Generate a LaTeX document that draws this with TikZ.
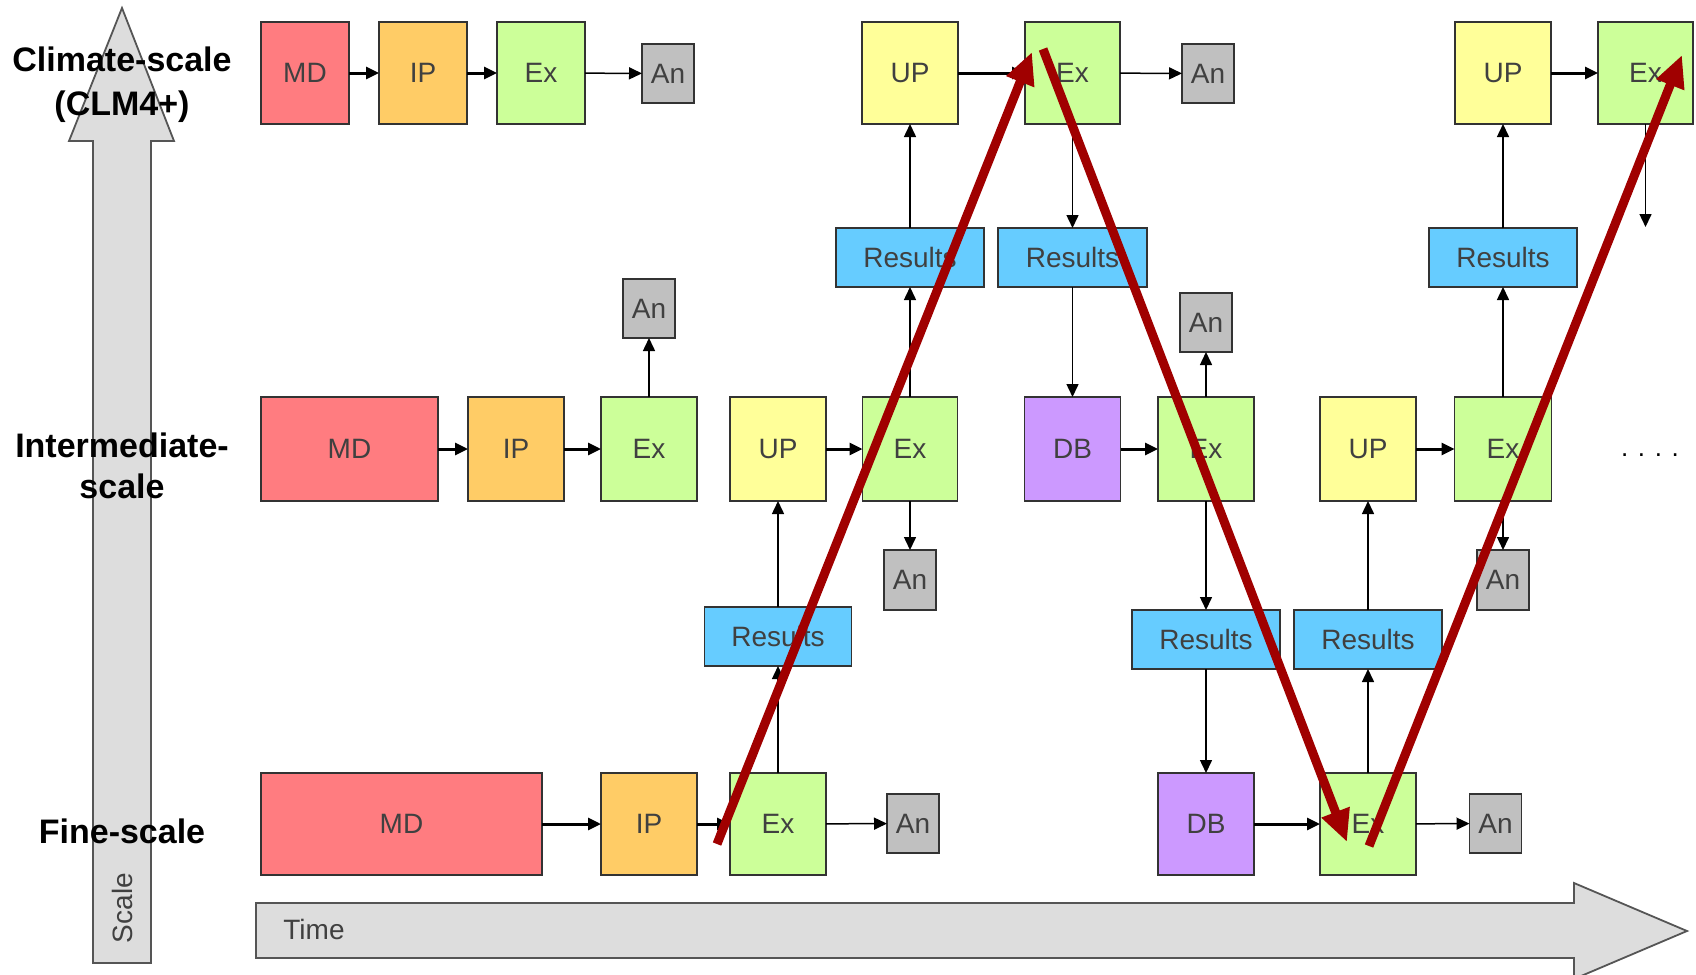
\documentclass[tikz,border=0pt]{standalone}
\usepackage{fontspec}
\setmainfont{Liberation Sans}
\usetikzlibrary{arrows.meta}

\definecolor{mdred}{HTML}{FF7C80}
\definecolor{iporange}{HTML}{FFCC66}
\definecolor{exgreen}{HTML}{CCFF99}
\definecolor{angray}{HTML}{C0C0C0}
\definecolor{upyellow}{HTML}{FFFF99}
\definecolor{resblue}{HTML}{66CCFF}
\definecolor{dbpurple}{HTML}{CC99FF}
\definecolor{bigfill}{HTML}{DDDDDD}
\definecolor{bigedge}{HTML}{555555}
\definecolor{flowred}{HTML}{A00000}

\begin{document}
\begin{tikzpicture}[x=1pt,y=-1pt,
  box/.style={draw=black!80, line width=1.5pt, inner sep=0pt, outer sep=0pt,
              font=\fontsize{28}{30}\selectfont, text=black!75},
  md/.style={box, fill=mdred},
  ip/.style={box, fill=iporange},
  ex/.style={box, fill=exgreen},
  an/.style={box, fill=angray, minimum width=52pt, minimum height=59pt},
  up/.style={box, fill=upyellow},
  db/.style={box, fill=dbpurple},
  res/.style={box, fill=resblue, minimum height=59pt},
  sz/.style 2 args={minimum width=#1, minimum height=#2},
  con/.style={draw=black, line width=1.5pt, -{Triangle[length=13pt,width=12pt]}},
  conthick/.style={con, line width=3pt},
  bigarrow/.style={fill=bigfill, draw=bigedge, line width=1.8pt},
  scalelabel/.style={font=\fontsize{34}{41}\selectfont\bfseries, align=center, text=black},
  axislabel/.style={font=\fontsize{28}{30}\selectfont, text=black!75},
  flow/.style={draw=flowred, line width=9pt, -{Triangle[length=32pt,width=28pt]}}
  ]
\useasboundingbox (0,0) rectangle (1696,974);

% scale and time axes
\draw[bigarrow] (93,963) -- (93,141) -- (69,141) -- (122,8) -- (174,141)
  -- (151,141) -- (151,963) -- cycle;
\draw[bigarrow] (256,903) -- (1574,903) -- (1574,883) -- (1687,931)
  -- (1574,979) -- (1574,958) -- (256,958) -- cycle;
\node[axislabel, rotate=90] (scaletxt) at (122,908) {Scale};
\node[axislabel] (timetxt) at (314,929) {Time};

% level labels
\node[scalelabel, font=\fontsize{34}{44}\selectfont\bfseries] (lclim) at (122,85) {Climate-scale\\(CLM4+)};
\node[scalelabel] (lint) at (122,466) {Intermediate-\\scale};
\node[scalelabel] (lfine) at (122,831) {Fine-scale};

% climate-scale row
\node[md, sz={88pt}{102pt}] (tMD) at (305,73) {MD};
\node[ip, sz={88pt}{102pt}] (tIP) at (423,73) {IP};
\node[ex, sz={88pt}{102pt}] (tExA) at (541,73) {Ex};
\node[an] (tAnA) at (668,73.5) {An};
\node[up, sz={96pt}{102pt}] (tUPA) at (910,73) {UP};
\node[ex, sz={95pt}{102pt}] (tExB) at (1072.5,73) {Ex};
\node[an] (tAnB) at (1208,73.5) {An};
\node[up, sz={96pt}{102pt}] (tUPB) at (1503,73) {UP};
\node[ex, sz={95pt}{102pt}] (tExC) at (1645.5,73) {Ex};

% results between climate and intermediate
\node[res, minimum width=148pt] (rA) at (910,257.5) {Results};
\node[res, minimum width=149pt] (rB) at (1072.5,257.5) {Results};
\node[res, minimum width=148pt] (rC) at (1503,257.5) {Results};

% intermediate-scale row
\node[an] (iAnA) at (649,308.5) {An};
\node[an] (iAnB) at (1206,322.5) {An};
\node[md, sz={177pt}{104pt}] (iMD) at (349.5,449) {MD};
\node[ip, sz={96pt}{104pt}] (iIP) at (516,449) {IP};
\node[ex, sz={96pt}{104pt}] (iExA) at (649,449) {Ex};
\node[up, sz={96pt}{104pt}] (iUPA) at (778,449) {UP};
\node[ex, sz={95pt}{104pt}] (iExB) at (910,449) {Ex};
\node[db, sz={96pt}{104pt}] (iDB) at (1072.5,449) {DB};
\node[ex, sz={96pt}{104pt}] (iExC) at (1206,449) {Ex};
\node[up, sz={96pt}{104pt}] (iUPB) at (1368,449) {UP};
\node[ex, sz={97pt}{104pt}] (iExD) at (1503,449) {Ex};
\node[font=\fontsize{26}{30}\selectfont, text=black] (dots) at (1650,455) {. . . .};
\node[an, minimum height=60pt] (iAnC) at (910,580) {An};
\node[an, minimum height=60pt] (iAnD) at (1503,580) {An};

% results between intermediate and fine
\node[res, minimum width=147pt] (rD) at (778,636.5) {Results};
\node[res, minimum width=148pt] (rE) at (1206,639.5) {Results};
\node[res, minimum width=148pt] (rF) at (1368,639.5) {Results};

% fine-scale row
\node[md, sz={281pt}{102pt}] (fMD) at (401.5,824) {MD};
\node[ip, sz={96pt}{102pt}] (fIP) at (649,824) {IP};
\node[ex, sz={96pt}{102pt}] (fExA) at (778,824) {Ex};
\node[an] (fAnA) at (913,823.5) {An};
\node[db, sz={96pt}{102pt}] (fDB) at (1206,824) {DB};
\node[ex, sz={96pt}{102pt}] (fExB) at (1368,824) {Ex};
\node[an] (fAnB) at (1495.5,823.5) {An};

\coordinate (tExCout) at ([yshift=-103pt]tExC.south);

% horizontal connectors
\draw[conthick] (tMD) -- (tIP);
\draw[conthick] (tIP) -- (tExA);
\draw[con] (tExA) -- (tAnA);
\draw[conthick] (tUPA) -- (tExB);
\draw[con] (tExB) -- (tAnB);
\draw[conthick] (tUPB) -- (tExC);
\draw[conthick] (iMD) -- (iIP);
\draw[conthick] (iIP) -- (iExA);
\draw[conthick] (iUPA) -- (iExB);
\draw[conthick] (iDB) -- (iExC);
\draw[conthick] (iUPB) -- (iExD);
\draw[conthick] (fMD) -- (fIP);
\draw[conthick] (fIP) -- (fExA);
\draw[con] (fExA) -- (fAnA);
\draw[conthick] (fDB) -- (fExB);
\draw[con] (fExB) -- (fAnB);

% vertical connectors
\draw[con] (tExC.south) -- (tExCout);
\draw[con] (rA) -- (tUPA);
\draw[con] (iExB) -- (rA);
\draw[con] (tExB) -- (rB);
\draw[con] (rB) -- (iDB);
\draw[con] (rC) -- (tUPB);
\draw[con] (iExD) -- (rC);
\draw[con] (iExA) -- (iAnA);
\draw[con] (iExC) -- (iAnB);
\draw[con] (iExB) -- (iAnC);
\draw[con] (iExD) -- (iAnD);
\draw[con] (fExA) -- (rD);
\draw[con] (rD) -- (iUPA);
\draw[con] (iExC) -- (rE);
\draw[con] (rE) -- (fDB);
\draw[con] (fExB) -- (rF);
\draw[con] (rF) -- (iUPB);

% scale-bridging path
\coordinate (p1) at (717,844);
\coordinate (p2) at (1032,52);
\coordinate (p3) at (1043,49);
\coordinate (p4) at (1347,842);
\coordinate (p5) at (1369,846);
\coordinate (p6) at (1682,55);
\draw[flow] (p1) -- (p2);
\draw[flow] (p3) -- (p4);
\draw[flow] (p5) -- (p6);
\end{tikzpicture}
\end{document}
